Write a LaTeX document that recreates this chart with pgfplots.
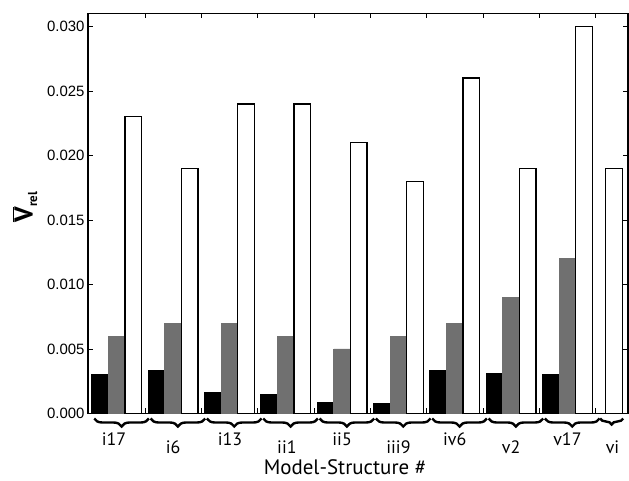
\documentclass[border=0pt]{standalone}
\usepackage{fontspec}
\setmainfont{Liberation Sans}
\newfontfamily\lblfont{PT Sans}
\usepackage{graphicx}
\usepackage{pgfplots}
\pgfplotsset{compat=1.18}
\usetikzlibrary{decorations.pathreplacing}

\tikzset{grpbrace/.style={line width=2.4bp, decorate,
    decoration={brace, mirror, amplitude=8bp}}}

\begin{document}
\begin{tikzpicture}
\begin{axis}[
    scale only axis,
    width=540bp, height=400bp,
    ybar=0pt, bar width=0.296,
    xmin=-0.511, xmax=9.075,
    ymin=0, ymax=0.031,
    xtick={0.5,1.5,2.5,3.5,4.5,5.5,6.5,7.5,8.5},
    xticklabels={},
    ytick={0,0.005,0.010,0.015,0.020,0.025,0.030},
    scaled y ticks=false,
    yticklabel style={/pgf/number format/.cd, fixed, fixed zerofill, precision=3,
        assume math mode=true},
    ticklabel style={font=\fontsize{15}{15}\selectfont},
    tick align=inside,
    major tick length=5bp,
    tick style={black, line width=0.8bp},
    axis line style={line width=1.2bp},
    clip=false,
]
\addplot[fill=black, draw=black, line width=0.8bp] coordinates {
(0,0.0030) (1,0.00335) (2,0.0016) (3,0.0015) (4,0.00085)
(5,0.0008) (6,0.00335) (7,0.0031) (8,0.0030)
};
\addplot[fill=black!56, draw=black!56, line width=0.8bp] coordinates {
(0,0.0060) (1,0.0070) (2,0.0070) (3,0.0060) (4,0.0050)
(5,0.0060) (6,0.0070) (7,0.0090) (8,0.0120)
};
\addplot[fill=white, draw=black, line width=1.4bp] coordinates {
(0,0.0230) (1,0.0190) (2,0.0240) (3,0.0240) (4,0.0210)
(5,0.0180) (6,0.0260) (7,0.0190) (8,0.0300) (8.53,0.0190)
};

\draw[grpbrace] ([yshift=-5bp]axis cs:-0.40,0) -- ([yshift=-5bp]axis cs:0.57,0);
\draw[grpbrace] ([yshift=-5bp]axis cs:0.60,0) -- ([yshift=-5bp]axis cs:1.57,0);
\draw[grpbrace] ([yshift=-5bp]axis cs:1.60,0) -- ([yshift=-5bp]axis cs:2.57,0);
\draw[grpbrace] ([yshift=-5bp]axis cs:2.60,0) -- ([yshift=-5bp]axis cs:3.57,0);
\draw[grpbrace] ([yshift=-5bp]axis cs:3.60,0) -- ([yshift=-5bp]axis cs:4.57,0);
\draw[grpbrace] ([yshift=-5bp]axis cs:4.60,0) -- ([yshift=-5bp]axis cs:5.57,0);
\draw[grpbrace] ([yshift=-5bp]axis cs:5.60,0) -- ([yshift=-5bp]axis cs:6.57,0);
\draw[grpbrace] ([yshift=-5bp]axis cs:6.60,0) -- ([yshift=-5bp]axis cs:7.57,0);
\draw[grpbrace] ([yshift=-5bp]axis cs:7.60,0) -- ([yshift=-5bp]axis cs:8.57,0);
\draw[grpbrace, decoration={amplitude=6bp}]
  ([yshift=-5bp]axis cs:8.58,0) -- ([yshift=-5bp]axis cs:8.99,0);

\begin{scope}[every node/.style={anchor=base, font=\lblfont\fontsize{18}{18}\selectfont}]
\node at ([yshift=-31.7bp]axis cs:-0.05,0) {i17};
\node at ([yshift=-39.7bp]axis cs:1.00,0) {i6};
\node at ([yshift=-31.7bp]axis cs:2.01,0) {i13};
\node at ([yshift=-39.7bp]axis cs:3.02,0) {ii1};
\node at ([yshift=-31.7bp]axis cs:4.00,0) {ii5};
\node at ([yshift=-39.7bp]axis cs:5.00,0) {iii9};
\node at ([yshift=-31.7bp]axis cs:6.00,0) {iv6};
\node at ([yshift=-39.7bp]axis cs:7.00,0) {v2};
\node at ([yshift=-31.7bp]axis cs:8.00,0) {v17};
\node at ([yshift=-39.7bp]axis cs:8.80,0) {vi};
\end{scope}
\node[anchor=base, font=\lblfont\fontsize{21}{21}\selectfont]
  at ([yshift=-60.5bp]axis description cs:0.476,0) {Model-Structure \#};
\end{axis}
\node[anchor=center, inner sep=0pt, font=\lblfont\fontsize{26}{26}\selectfont\bfseries]
  at ([shift={(-63bp,206.4bp)}]current axis.south west)
  {\rotatebox{90}{$\overline{\mbox{V}}$\raisebox{-0.35ex}{\fontsize{13}{13}\selectfont rel}}};
\path ([shift={(-88bp,-66.7bp)}]current axis.south west)
  rectangle ([shift={(1bp,13.5bp)}]current axis.north east);
\end{tikzpicture}
\end{document}
